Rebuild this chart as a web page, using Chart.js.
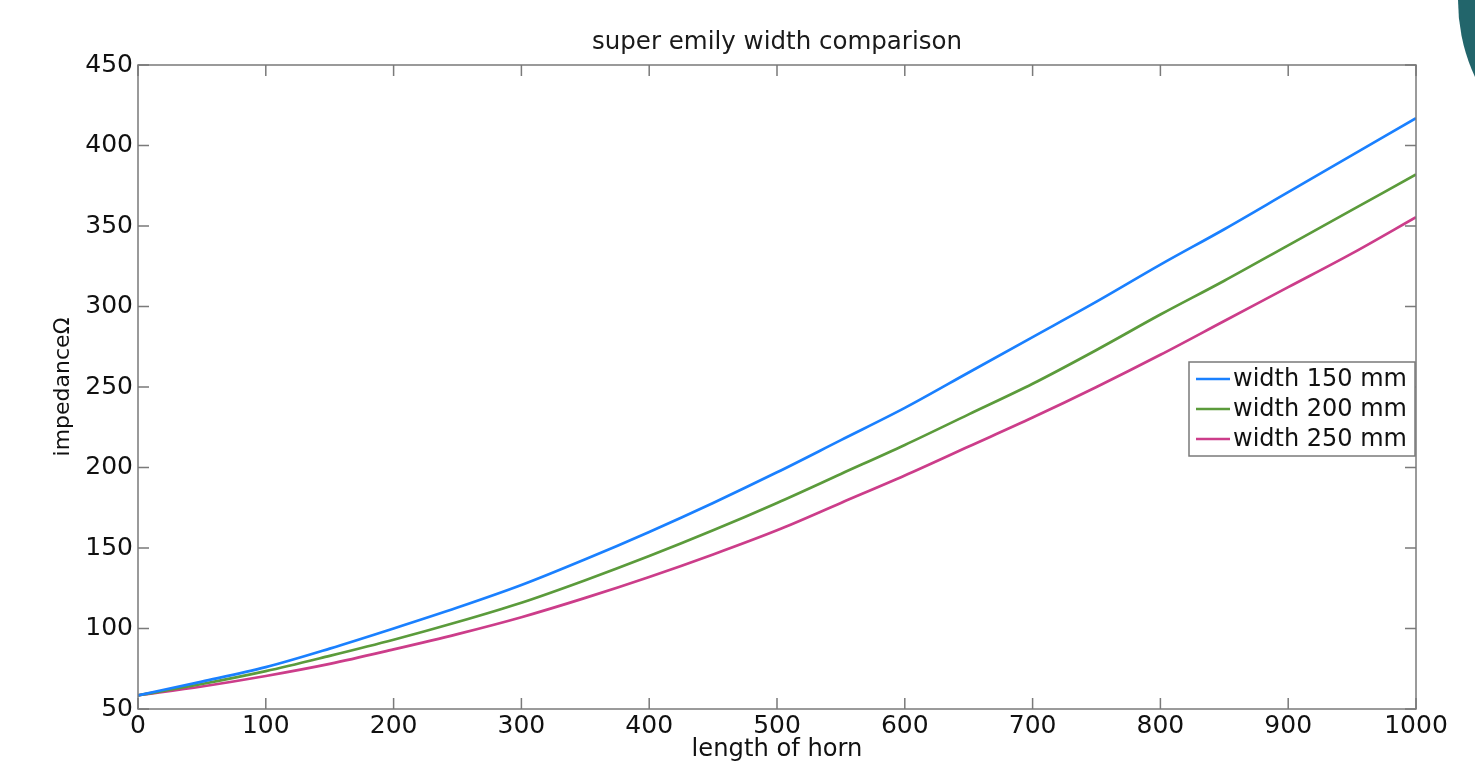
<!DOCTYPE html>
<html>
<head>
<meta charset="utf-8">
<script src="https://cdn.jsdelivr.net/npm/chart.js@4.4.0/dist/chart.umd.min.js"></script>
<style>
  html, body { margin: 0; padding: 0; background: #fff; overflow: hidden; }
  #wrap { position: relative; width: 1475px; height: 773px; overflow: hidden; }
  #deco { position: absolute; left: 1458px; top: -183px; width: 366px; height: 366px; border-radius: 50%; background: #22656b; }
</style>
</head>
<body>
<div id="wrap">
  <canvas id="myChart" width="1475" height="773"></canvas>
  <div id="deco"></div>
</div>
<script>
// length of horn (x)
const lengths = [0, 50, 100, 150, 200, 250, 300, 350, 400, 450, 500, 550, 600, 650, 700, 750, 800, 850, 900, 950, 1000];
// impedance for each width
const width150 = [58.5, 67, 76, 87.5, 100, 113, 127, 143, 160, 178, 197, 217, 237, 259, 281, 303, 326, 348, 371, 394, 417];
const width200 = [58.5, 65.5, 73.5, 83, 93, 104, 116, 130, 145, 161, 178, 196, 214, 233, 252, 273, 295, 316, 338, 360, 382];
const width250 = [58.5, 64, 70.5, 78, 87, 96.5, 107, 119, 132, 146, 161, 178, 195, 213, 231, 250, 270, 291, 312, 333, 355.5];
const seriesNames = ["width 150 mm", "width 200 mm", "width 250 mm"];
const xTickValues = [0, 100, 200, 300, 400, 500, 600, 700, 800, 900, 1000];
const yTickValues = [50, 100, 150, 200, 250, 300, 350, 400, 450];

const FONT = "'DejaVu Sans', sans-serif";

function toPoints(ys) {
  return lengths.map((x, i) => ({ x: x, y: ys[i] }));
}

// box round the plot with the ticks pointing inwards
const boxTicks = {
  id: "boxTicks",
  afterDatasetsDraw(chart) {
    const ctx = chart.ctx;
    const a = chart.chartArea;
    const xs = chart.scales.x;
    const ys = chart.scales.y;
    const len = 11;
    ctx.save();
    ctx.strokeStyle = "#7a7a7a";
    ctx.lineWidth = 1.5;
    ctx.beginPath();
    xs.ticks.forEach(t => {
      const px = xs.getPixelForValue(t.value);
      ctx.moveTo(px, a.bottom);
      ctx.lineTo(px, a.bottom - len);
      ctx.moveTo(px, a.top);
      ctx.lineTo(px, a.top + len);
    });
    ys.ticks.forEach(t => {
      const py = ys.getPixelForValue(t.value);
      ctx.moveTo(a.left, py);
      ctx.lineTo(a.left + len, py);
      ctx.moveTo(a.right, py);
      ctx.lineTo(a.right - len, py);
    });
    ctx.stroke();
    ctx.strokeRect(a.left, a.top, a.right - a.left, a.bottom - a.top);
    ctx.restore();
  }
};

// legend box inside the plot, like matlab
const boxLegend = {
  id: "boxLegend",
  afterDraw(chart) {
    const ctx = chart.ctx;
    const a = chart.chartArea;
    const w = 226, h = 94;
    const left = a.right - w - 1;
    const top = a.top + 297;
    ctx.save();
    ctx.fillStyle = "#fff";
    ctx.fillRect(left, top, w, h);
    ctx.strokeStyle = "#7a7a7a";
    ctx.lineWidth = 1.5;
    ctx.strokeRect(left, top, w, h);
    ctx.font = "24px " + FONT;
    ctx.textBaseline = "middle";
    ctx.textAlign = "left";
    chart.data.datasets.forEach((ds, i) => {
      const cy = top + 17 + i * 30;
      ctx.strokeStyle = ds.borderColor;
      ctx.lineWidth = 2.5;
      ctx.beginPath();
      ctx.moveTo(left + 7, cy);
      ctx.lineTo(left + 41, cy);
      ctx.stroke();
      ctx.fillStyle = "#111";
      ctx.fillText(ds.label, left + 44, cy + 1);
    });
    ctx.restore();
  }
};

const ctx = document.getElementById("myChart");

const chart = new Chart(ctx, {
  type: "line",
  data: {
    datasets: [
      {
        label: seriesNames[0],
        data: toPoints(width150),
        borderColor: "#1a80ff",
      },
      {
        label: seriesNames[1],
        data: toPoints(width200),
        borderColor: "#5b9b3b",
      },
      {
        label: seriesNames[2],
        data: toPoints(width250),
        borderColor: "#cc3d8a",
      },
    ],
  },
  options: {
    responsive: false,
    animation: false,
    devicePixelRatio: 1,
    layout: { padding: { left: 0, right: 59, top: 0, bottom: 0 } },
    elements: {
      point: { radius: 0 },
      line: { borderWidth: 2.7, cubicInterpolationMode: "monotone" },
    },
    plugins: {
      legend: { display: false },
      tooltip: { enabled: false },
      title: {
        display: true,
        fullSize: false,
        text: "super emily width comparison",
        color: "#1a1a1a",
        font: { family: FONT, size: 24.5, weight: "normal" },
        padding: { top: 28, bottom: 7.6 },
      },
    },
    scales: {
      x: {
        type: "linear",
        min: 0,
        max: 1000,
        afterBuildTicks: s => { s.ticks = xTickValues.map(v => ({ value: v })); },
        afterFit: s => { s.height = 64; },
        grid: { display: false, drawTicks: false },
        border: { display: false },
        ticks: {
          color: "#111",
          padding: 2,
          maxRotation: 0,
          font: { family: FONT, size: 25 },
          callback: v => String(v),
        },
        title: {
          display: true,
          text: "length of horn",
          color: "#111",
          font: { family: FONT, size: 24.2 },
          padding: { top: 0, bottom: 9 },
        },
      },
      y: {
        min: 50,
        max: 450,
        afterBuildTicks: s => { s.ticks = yTickValues.map(v => ({ value: v })); },
        afterFit: s => { s.width = 138; },
        grid: { display: false, drawTicks: false },
        border: { display: false },
        ticks: {
          color: "#111",
          padding: 5,
          font: { family: FONT, size: 25 },
          callback: v => String(v),
        },
        title: {
          display: true,
          text: "impedanceΩ",
          color: "#111",
          font: { family: FONT, size: 22 },
          padding: { top: 50, bottom: 0 },
        },
      },
    },
  },
  plugins: [boxTicks, boxLegend],
});
</script>
</body>
</html>
